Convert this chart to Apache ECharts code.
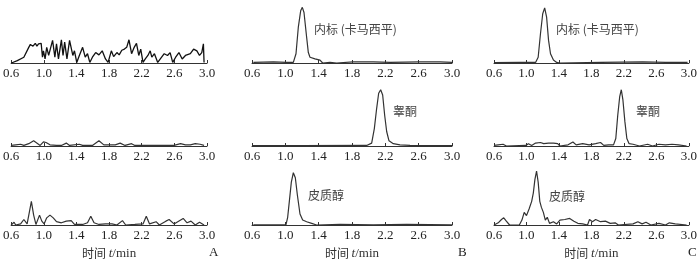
<!DOCTYPE html>
<html><head><meta charset="utf-8">
<script src="https://cdn.jsdelivr.net/npm/echarts@6/dist/echarts.min.js"></script>
<style>html,body{margin:0;padding:0;background:#fff}#c{width:700px;height:261px}</style>
</head><body><div id="c"></div>
<script>
// x-axis tick labels (time, min)
const xTicks = [0.6, 1.0, 1.4, 1.8, 2.2, 2.6, 3.0];
const panelLetters = ['A', 'B', 'C'];
const peakNames = ['内标 (卡马西平)', '睾酮', '皮质醇'];

// Column A (blank), rows: IS channel, testosterone channel, cortisol channel
const a1T = [0.604,0.676,0.756,0.816,0.836,0.868,0.896,0.916,0.936,0.956,0.968,0.984,0.996,1.016,1.036,1.06,1.108,1.136,1.156,1.18,1.216,1.236,1.256,1.284,1.316,1.356,1.376,1.404,1.436,1.476,1.508,1.536,1.564,1.596,1.636,1.676,1.716,1.756,1.788,1.828,1.856,1.896,1.924,1.956,1.988,2.016,2.044,2.076,2.108,2.136,2.164,2.188,2.216,2.244,2.276,2.304,2.324,2.356,2.396,2.428,2.476,2.516,2.548,2.58,2.616,2.656,2.696,2.736,2.796,2.836,2.876,2.908,2.936,2.956,2.964];
const a1V = [0,4,10,27,32,29,34,29,33,30,34,10,21,7,27,13,39,10,33,7,40,13,36,7,39,13,21,1,13,27,10,16,1,10,18,14,21,7,1,21,11,18,14,22,24,27,40,16,27,34,13,24,1,7,13,21,10,16,1,7,16,13,18,1,10,18,7,13,16,24,21,13,18,33,1];
const a2T = [0.6,0.656,0.716,0.756,0.816,0.876,0.956,0.996,1.028,1.076,1.156,1.216,1.276,1.316,1.436,1.476,1.596,1.676,1.736,1.796,1.876,1.936,1.996,2.076,2.116,2.236,2.396,2.596,2.676,2.736,2.796,2.856,2.916,2.964];
const a2V = [1,2,3,1,4,9,1,7,6,2,1,1,5,1,3,1,1,9,2,2,2,5,1,4,1,1,1,1,4,2,2,4,3,1];
const a3T = [0.6,0.636,0.656,0.716,0.756,0.796,0.824,0.848,0.876,0.904,0.948,0.976,1.004,1.036,1.076,1.116,1.156,1.216,1.276,1.336,1.376,1.476,1.536,1.576,1.616,1.676,1.756,1.836,1.896,1.964,2.004,2.116,2.216,2.256,2.296,2.376,2.416,2.496,2.536,2.596,2.708,2.756,2.804,2.856,2.908,2.964];
const a3V = [0,5,0,2,10,2,24,43,18,1,18,7,2,13,18,13,6,4,7,8,1,1,4,16,4,1,2,2,0,8,0,1,2,16,2,6,0,7,10,2,12,4,7,0,5,0];

// Column B (standard)
const b1T = [0.616,0.856,1.016,1.096,1.128,1.156,1.184,1.204,1.224,1.256,1.276,1.296,1.356,1.416,1.448,1.536,1.616,1.816,2.056,2.256,2.616,2.856,3.0];
const b1V = [1,2,1,1,16,62,90,96,87,44,18,10,7,5,0,1,0,2,2,1,2,2,1];
const b2T = [0.6,1.2,1.976,2.036,2.068,2.096,2.12,2.144,2.168,2.192,2.216,2.244,2.296,2.376,2.496,3.0];
const b2V = [0.5,0.5,1,5,30,65,91,97,88,53,25,9,4,2,1,0.5];
const b3T = [0.616,1.008,1.028,1.048,1.072,1.096,1.12,1.144,1.176,1.208,1.256,1.316,1.376,1.656,2.056,2.456,3.0];
const b3V = [0.5,0.5,14,43,78,95,86,55,20,9,6,3,0,1,0.5,1,0.5];

// Column C (sample)
const c1T = [0.6,0.912,1.112,1.144,1.172,1.2,1.224,1.248,1.272,1.296,1.332,1.372,1.412,1.912,2.432,2.712,2.984];
const c1V = [0.5,1,1,10,50,85,95,79,39,16,5,1,0,1,2,1,1];
const c2T = [0.6,0.652,0.712,0.752,0.992,1.024,1.064,1.112,1.172,1.212,1.272,1.332,1.384,1.412,1.512,1.572,1.612,1.692,1.772,1.852,1.912,1.952,2.012,2.072,2.1,2.124,2.148,2.168,2.188,2.212,2.236,2.264,2.312,2.392,2.492,2.552,2.632,2.712,2.792,2.872,2.972];
const c2V = [1,2,3,0,1,4,1,5,6,4,5,5,4,0,2,7,2,4,2,4,6,1,2,2,13,53,85,97,79,42,13,4,3,0,3,0,3,2,3,2,0];
const c3T = [0.6,0.652,0.692,0.72,0.752,0.792,0.912,0.944,0.972,1.0,1.032,1.064,1.084,1.104,1.124,1.144,1.164,1.184,1.208,1.232,1.256,1.284,1.332,1.372,1.412,1.472,1.532,1.584,1.632,1.692,1.752,1.776,1.812,1.852,1.912,1.972,2.032,2.092,2.132,2.312,2.372,2.424,2.472,2.532,2.632,2.712,2.76,2.832,2.972];
const c3V = [0,4,10,13,7,0,0,9,23,17,29,43,58,83,98,78,43,32,23,9,14,3,6,2,9,10,12,7,3,2,0,10,6,10,6,7,3,4,0,2,6,2,5,0,3,0,4,2,0];

const panelData = [
  [a1T, a1V], [b1T, b1V], [c1T, c1V],
  [a2T, a2V], [b2T, b2V], [c2T, c2V],
  [a3T, a3V], [b3T, b3V], [c3T, c3V]
];

const colLeft = [7, 252, 494];
const rowTop = [5, 88, 170];
const W = 200, H = 58;
const serif = '"Liberation Serif","DejaVu Serif",serif';
const cjk = '"Noto Sans CJK SC","Liberation Serif",sans-serif';

const grids = [], xAxes = [], yAxes = [], series = [];
panelData.forEach((pd, i) => {
  const r = Math.floor(i / 3), c = i % 3;
  grids.push({left: colLeft[c], top: rowTop[r], width: W, height: H});
  xAxes.push({
    type: 'value', gridIndex: i, min: 0.6, max: 3.0,
    axisLine: {show: true, lineStyle: {color: '#333', width: 1}},
    axisTick: {show: true, inside: true, length: 3, lineStyle: {color: '#333'}, customValues: xTicks},
    axisLabel: {show: true, margin: 4, color: '#222', fontFamily: serif, fontSize: 13,
      customValues: xTicks, formatter: v => v.toFixed(1)},
    splitLine: {show: false},
    name: r === 2 ? '{c|时间 }{i|t}{s|/min}' : '',
    nameLocation: 'middle', nameGap: 22,
    nameTextStyle: {rich: {
      c: {fontFamily: cjk, fontSize: 12, color: '#333'},
      i: {fontFamily: serif, fontStyle: 'italic', fontSize: 13, color: '#333'},
      s: {fontFamily: serif, fontSize: 13, color: '#333'}
    }}
  });
  yAxes.push({type: 'value', gridIndex: i, min: 0, max: 100, show: false});
  series.push({
    type: 'line', xAxisIndex: i, yAxisIndex: i, symbol: 'none', silent: true,
    data: pd[0].map((t, k) => [t, pd[1][k]]),
    lineStyle: {color: i === 0 ? '#111' : '#333', width: i === 0 ? 1.3 : 1.2}
  });
});

const graphics = [];
// panel letters
const letterX = [214, 463, 693];
panelLetters.forEach((L, k) => graphics.push({type: 'text', left: letterX[k] - 5, top: 246,
  style: {text: L, font: '13px ' + serif, fill: '#222'}}));
// peak labels (columns B and C)
const labelPos = [[[314, 23], [556, 23]], [[393, 105], [636, 105]], [[308, 189], [549, 190]]];
labelPos.forEach((row, r) => row.forEach(p => graphics.push({type: 'text', left: p[0], top: p[1],
  style: {text: peakNames[r], font: '12px ' + cjk, fill: '#444'}})));

const chart = echarts.init(document.getElementById('c'), null, {renderer: 'canvas'});
chart.setOption({
  animation: false, backgroundColor: '#fff',
  grid: grids, xAxis: xAxes, yAxis: yAxes, series: series, graphic: graphics
});
</script></body></html>
